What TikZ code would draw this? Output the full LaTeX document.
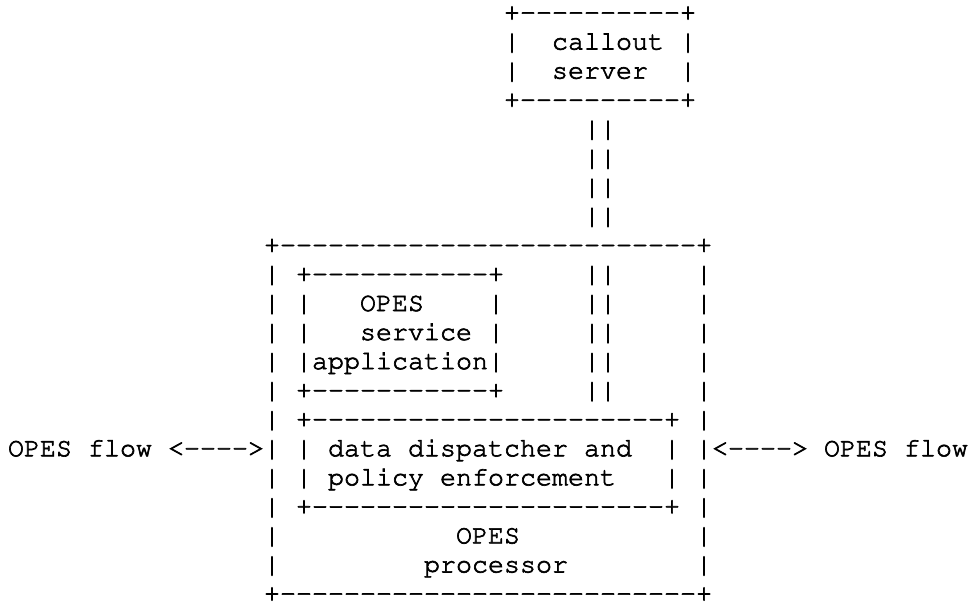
\documentclass[tikz,border=0pt]{standalone}
\usepackage[T1]{fontenc}
\newcommand\dsh[1]{\foreach \i in {1,...,#1}{-}}
\tikzset{ch/.style={anchor=base west, inner sep=0pt, outer sep=0pt, text=black,
  execute at begin node={\special{pdf:literal direct 2 Tr}},
  font=\fontsize{26.67}{29}\fontfamily{pcr}\fontseries{m}\fontshape{n}\selectfont}}
\newcommand\T[4]{\node[ch] (#1) at ({8+16*#3},{20.5+29.05*#2}) {#4};}
\begin{document}
\begin{tikzpicture}[x=1pt,y=-1pt,line width=0.65pt]
\useasboundingbox (0,0) rectangle (971,602);
% callout server
\T{cs0}{0}{31}{+\dsh{10}+}
\T{cs1a}{1}{31}{|}\T{cs1b}{1}{34}{callout}\T{cs1c}{1}{42}{|}
\T{cs2a}{2}{31}{|}\T{cs2b}{2}{34}{server}\T{cs2c}{2}{42}{|}
\T{cs3}{3}{31}{+\dsh{10}+}
\T{l4}{4}{36}{||}
\T{l5}{5}{36}{||}
\T{l6}{6}{36}{||}
\T{l7}{7}{36}{||}
% processor
\T{p8}{8}{16}{+\dsh{26}+}
\T{p9a}{9}{16}{|}\T{p9b}{9}{18}{+\dsh{11}+}\T{p9c}{9}{36}{||}\T{p9d}{9}{43}{|}
\T{p10a}{10}{16}{|}\T{p10b}{10}{18}{|}\T{p10c}{10}{22}{OPES}\T{p10d}{10}{30}{|}\T{p10e}{10}{36}{||}\T{p10f}{10}{43}{|}
\T{p11a}{11}{16}{|}\T{p11b}{11}{18}{|}\T{p11c}{11}{22}{service}\T{p11d}{11}{30}{|}\T{p11e}{11}{36}{||}\T{p11f}{11}{43}{|}
\T{p12a}{12}{16}{|}\T{p12b}{12}{18}{|application|}\T{p12e}{12}{36}{||}\T{p12f}{12}{43}{|}
\T{p13a}{13}{16}{|}\T{p13b}{13}{18}{+\dsh{11}+}\T{p13e}{13}{36}{||}\T{p13f}{13}{43}{|}
\T{p14a}{14}{16}{|}\T{p14b}{14}{18}{+\dsh{22}+}\T{p14c}{14}{43}{|}
\T{f15a}{15}{0}{OPES}\T{f15b}{15}{5}{flow}\T{f15c}{15}{10}{<\dsh{4}>|}
\T{p15b}{15}{18}{|}\T{p15c}{15}{20}{data}\T{p15d}{15}{25}{dispatcher}\T{p15e}{15}{36}{and}\T{p15f}{15}{41}{|}
\T{f15d}{15}{43}{|<\dsh{4}>}\T{f15e}{15}{51}{OPES}\T{f15f}{15}{56}{flow}
\T{p16a}{16}{16}{|}\T{p16b}{16}{18}{|}\T{p16c}{16}{20}{policy}\T{p16d}{16}{27}{enforcement}\T{p16e}{16}{41}{|}\T{p16f}{16}{43}{|}
\T{p17a}{17}{16}{|}\T{p17b}{17}{18}{+\dsh{22}+}\T{p17c}{17}{43}{|}
\T{p18a}{18}{16}{|}\T{p18b}{18}{28}{OPES}\T{p18c}{18}{43}{|}
\T{p19a}{19}{16}{|}\T{p19b}{19}{26}{processor}\T{p19c}{19}{43}{|}
\T{p20}{20}{16}{+\dsh{26}+}
\end{tikzpicture}
\end{document}
